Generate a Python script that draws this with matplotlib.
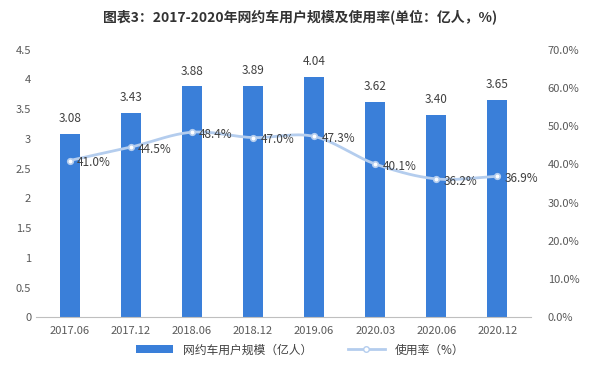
import matplotlib.pyplot as plt
import numpy as np

plt.rcParams['font.family'] = ['Noto Sans CJK SC', 'DejaVu Sans']

periods = ["2017.06", "2017.12", "2018.06", "2018.12", "2019.06", "2020.03", "2020.06", "2020.12"]
users = [3.08, 3.43, 3.88, 3.89, 4.04, 3.62, 3.40, 3.65]
rate = [41.0, 44.5, 48.4, 47.0, 47.3, 40.1, 36.2, 36.9]

bar_color = "#3a7fd9"
line_color = "#b4cdee"


def smooth(xs, ys, n=20):
    # catmull-rom through the points, just for the curved look
    xs = np.asarray(xs, float)
    ys = np.asarray(ys, float)
    px = np.concatenate([[2 * xs[0] - xs[1]], xs, [2 * xs[-1] - xs[-2]]])
    py = np.concatenate([[2 * ys[0] - ys[1]], ys, [2 * ys[-1] - ys[-2]]])
    ox, oy = [], []
    t = np.linspace(0, 1, n, endpoint=False)
    for i in range(1, len(px) - 2):
        for p, o in ((px, ox), (py, oy)):
            p0, p1, p2, p3 = p[i - 1], p[i], p[i + 1], p[i + 2]
            o.extend(0.5 * (2 * p1 + (-p0 + p2) * t + (2 * p0 - 5 * p1 + 4 * p2 - p3) * t ** 2
                            + (-p0 + 3 * p1 - 3 * p2 + p3) * t ** 3))
    ox.append(xs[-1])
    oy.append(ys[-1])
    return np.array(ox), np.array(oy)


fig = plt.figure(figsize=(6, 3.67), dpi=100)
ax = fig.add_axes([0.06, 0.135, 0.825, 0.73])
x = np.arange(len(periods))

bars = ax.bar(x, users, width=0.33, color=bar_color, label="网约车用户规模（亿人）", zorder=2)
for xi, v in zip(x, users):
    ax.text(xi, v + 0.15, f"{v:.2f}", ha="center", va="bottom", fontsize=8.5, color="#404040")

ax.set_ylim(0, 4.5)
ax.set_yticks(np.arange(0, 4.51, 0.5))
ax.set_yticklabels(["0"] + [f"{v:g}" for v in np.arange(0.5, 4.51, 0.5)])
ax.set_xlim(-0.55, len(periods) - 0.45)
ax.set_xticks(x)
ax.set_xticklabels(periods)
for s in ["top", "right", "left"]:
    ax.spines[s].set_visible(False)
ax.spines["bottom"].set_color("#bfbfbf")
ax.tick_params(axis="both", length=0, labelsize=8, colors="#595959")
ax.tick_params(axis="x", pad=6)

ax2 = ax.twinx()
sx, sy = smooth(x, rate)
ax2.plot(sx, sy, color=line_color, lw=2, zorder=3)
ax2.plot(x, rate, "o", ms=4, mfc="white", mec=line_color, mew=1.2, zorder=4)
ax2.plot([], [], color=line_color, lw=2, marker="o", ms=4, mfc="white", mec=line_color,
         label="使用率（%）")
for xi, v in zip(x, rate):
    ax2.text(xi + 0.12, v - 0.6, f"{v:.1f}%", ha="left", va="center", fontsize=8.5,
             color="#404040", zorder=5)
ax2.set_ylim(0, 70)
ax2.set_yticks(np.arange(0, 71, 10))
ax2.set_yticklabels([f"{v:.1f}%" for v in np.arange(0, 71, 10)])
for s in ["top", "right", "left", "bottom"]:
    ax2.spines[s].set_visible(False)
ax2.tick_params(axis="y", length=0, labelsize=8, colors="#595959", pad=12)

h1, l1 = ax.get_legend_handles_labels()
h2, l2 = ax2.get_legend_handles_labels()
fig.legend(h1 + h2, l1 + l2, loc="lower center", bbox_to_anchor=(0.5, 0.0), ncol=2,
           frameon=False, fontsize=8.5, handlelength=3.2, columnspacing=3,
           labelcolor="#404040")

fig.suptitle("图表3：2017-2020年网约车用户规模及使用率(单位：亿人，%)", y=0.975,
             fontsize=10, fontweight="bold", color="#333333")

fig.savefig("out.png", dpi=100)
